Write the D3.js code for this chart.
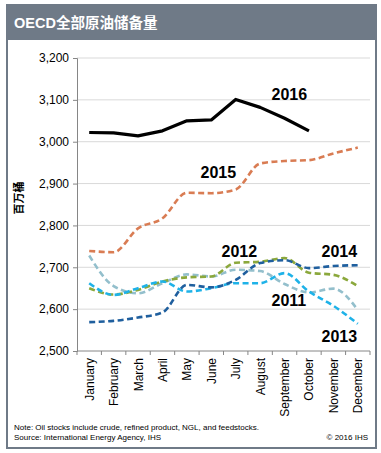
<!DOCTYPE html>
<html><head><meta charset="utf-8">
<script src="https://cdn.jsdelivr.net/npm/d3@7"></script>
<style>
html,body{margin:0;padding:0;background:#fff;}
svg{display:block;font-family:"Liberation Sans",Arial,sans-serif;}
</style></head>
<body>
<svg id="c" width="381" height="453"></svg>
<script>
const months = ["January","February","March","April","May","June","July","August","September","October","November","December"];
const yTicks = [2500,2600,2700,2800,2900,3000,3100,3200];
const s2016 = [3022,3021,3014,3026,3050,3052,3101,3082,3056,3026];
const s2015 = [2739,2736,2793,2817,2878,2877,2886,2948,2954,2956,2972,2986];
const s2014 = [2569,2572,2580,2592,2658,2652,2670,2710,2717,2698,2703,2705];
const s2013 = [2662,2634,2650,2666,2642,2650,2662,2662,2686,2642,2608,2565];
const s2012 = [2650,2635,2646,2666,2676,2678,2711,2713,2722,2687,2682,2655];
const s2011 = [2728,2655,2638,2662,2683,2678,2694,2691,2660,2640,2649,2598];

const svg = d3.select("#c");
const grey = "#6f7a87";

// frame
svg.append("rect").attr("x",7).attr("y",5).attr("width",369).attr("height",443)
  .attr("fill","#fff").attr("stroke",grey).attr("stroke-width",2);
svg.append("rect").attr("x",6).attr("y",5).attr("width",371).attr("height",35).attr("fill",grey);
svg.append("text").attr("x",14).attr("y",28).attr("fill","#fff")
  .attr("font-size",14.5).attr("font-weight","bold")
  .attr("font-family","'Liberation Sans','Noto Sans CJK SC',sans-serif")
  .text("OECD全部原油储备量");

const x = d3.scaleBand().domain(months).range([77,370]);
const y = d3.scaleLinear().domain([2500,3200]).range([351,58]);

// gridlines
svg.append("g").selectAll("line").data(yTicks.slice(1)).join("line")
  .attr("x1",77).attr("x2",370).attr("y1",d=>y(d)).attr("y2",d=>y(d))
  .attr("stroke","#d9d9d9").attr("stroke-width",1);

// y axis
const ya = svg.append("g").attr("transform","translate(77,0)")
  .call(d3.axisLeft(y).tickValues(yTicks).tickFormat(d3.format(",")).tickSize(4).tickPadding(4));
ya.select(".domain").attr("stroke","#868686");
ya.selectAll(".tick line").attr("stroke","#868686");
ya.selectAll("text").attr("font-size",12).attr("fill","#000").attr("font-family","'Liberation Sans',Arial,sans-serif");

// x axis
const xa = svg.append("g").attr("transform","translate(0,351)");
xa.append("line").attr("x1",77).attr("x2",370).attr("stroke","#868686");
const bounds = months.map(m=>x(m)).concat([x.range()[1]]);
xa.selectAll("line.t").data(bounds).join("line").attr("class","t")
  .attr("x1",d=>d).attr("x2",d=>d).attr("y1",0).attr("y2",4).attr("stroke","#868686");
xa.selectAll("text").data(months).join("text")
  .attr("transform",d=>`translate(${x(d)+x.bandwidth()/2+4.5},7) rotate(-90)`)
  .attr("text-anchor","end").attr("font-size",12).attr("fill","#000")
  .text(d=>d);

// y title
svg.append("text").attr("transform","translate(23,198) rotate(-90)")
  .attr("text-anchor","middle").attr("font-size",11).attr("font-weight","bold")
  .attr("font-family","'Noto Sans CJK SC',sans-serif").text("百万桶");

const cx = i => x(months[i]) + x.bandwidth()/2;
const lineStraight = d3.line().x((d,i)=>cx(i)).y(d=>y(d));
const lineSmooth = d3.line().x((d,i)=>cx(i)).y(d=>y(d)).curve(d3.curveMonotoneX);

const dashed = [
  {d:s2011, c:"#93bfcc"},
  {d:s2012, c:"#8ba83c"},
  {d:s2013, c:"#1eb2e8"},
  {d:s2014, c:"#1f5f9e"},
  {d:s2015, c:"#d97c53"}
];
dashed.forEach(s=>{
  svg.append("path").attr("d",lineSmooth(s.d)).attr("fill","none")
    .attr("stroke",s.c).attr("stroke-width",2.6).attr("stroke-dasharray","6,3.5");
});
svg.append("path").attr("d",lineStraight(s2016)).attr("fill","none")
  .attr("stroke","#000").attr("stroke-width",3.2).attr("stroke-linejoin","round");

// series labels
const labels = [["2016",271.5,100],["2015",200.5,178],["2012",221.5,256.5],["2014",321.5,256.5],["2011",271.5,306],["2013",321.5,341.5]];
svg.append("g").selectAll("text").data(labels).join("text")
  .attr("x",d=>d[1]).attr("y",d=>d[2]).attr("font-size",16).attr("font-weight","bold")
  .attr("fill","#000").text(d=>d[0]);

// notes
svg.append("text").attr("x",14).attr("y",430).attr("font-size",8).text("Note: Oil stocks include crude, refined product, NGL, and feedstocks.");
svg.append("text").attr("x",14).attr("y",439.5).attr("font-size",8).text("Source: International Energy Agency, IHS");
svg.append("text").attr("x",368).attr("y",439.5).attr("font-size",8).attr("text-anchor","end").text("© 2016 IHS");
</script>
</body></html>
